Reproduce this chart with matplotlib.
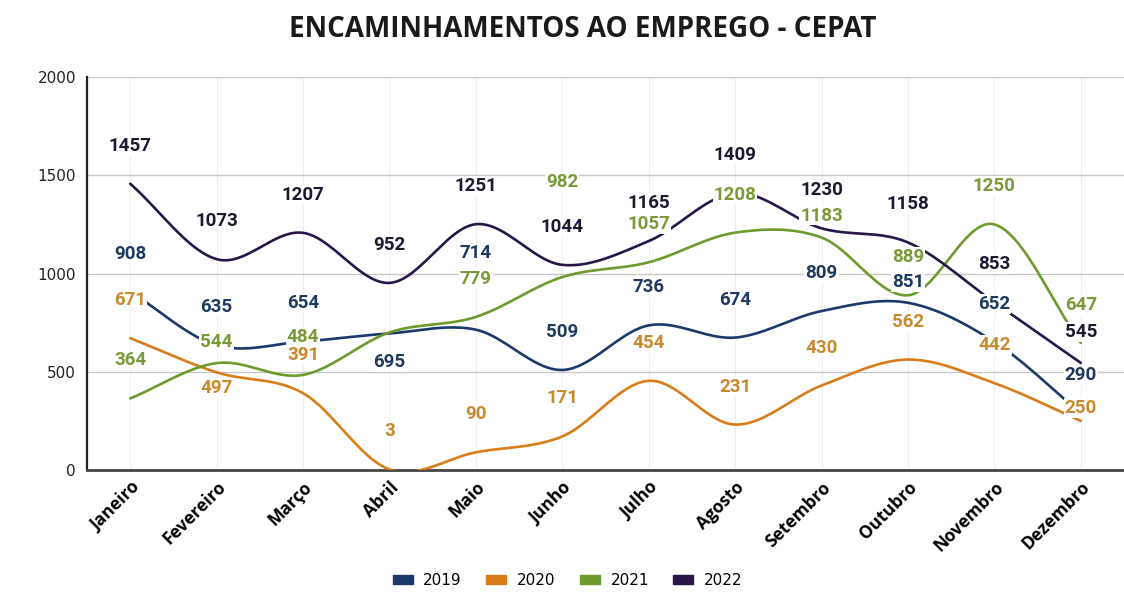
import numpy as np
import matplotlib
matplotlib.use('Agg')
import matplotlib.pyplot as plt
from matplotlib.patches import Patch


months = ['Janeiro', 'Fevereiro', 'Março', 'Abril', 'Maio', 'Junho',
          'Julho', 'Agosto', 'Setembro', 'Outubro', 'Novembro', 'Dezembro']
v2019 = [908, 635, 654, 695, 714, 509, 736, 674, 809, 851, 652, 290]
v2020 = [671, 497, 391, 3, 90, 171, 454, 231, 430, 562, 442, 250]
v2021 = [364, 544, 484, 700, 779, 982, 1057, 1208, 1183, 889, 1250, 647]
v2022 = [1457, 1073, 1207, 952, 1251, 1044, 1165, 1409, 1230, 1158, 853, 545]
years = ['2019', '2020', '2021', '2022']

line_colors = ['#1b3a6b', '#d97c1a', '#6e9a2e', '#26164a']
text_colors = ['#1f3a5f', '#c98a2e', '#7a9a3a', '#1c1a2e']

# label offsets in pixels (negative = above the point), None = hidden label
default_dy = -38
label_dy = {
    (0, 3): 29, (0, 4): -77, (0, 9): -21,
    (1, 1): 16, (1, 11): -13,
    (2, 1): -21, (2, 3): None, (2, 5): -95, (2, 8): -22,
    (3, 11): -31,
}


def smooth(y, n=25):
    # catmull-rom curve through the points, for drawing only
    y = np.asarray(y, dtype=float)
    p = np.concatenate([[2 * y[0] - y[1]], y, [2 * y[-1] - y[-2]]])
    xs, ys = [], []
    t = np.linspace(0, 1, n)
    for i in range(len(y) - 1):
        p0, p1, p2, p3 = p[i], p[i + 1], p[i + 2], p[i + 3]
        seg = 0.5 * ((2 * p1) + (-p0 + p2) * t + (2 * p0 - 5 * p1 + 4 * p2 - p3) * t ** 2
                     + (-p0 + 3 * p1 - 3 * p2 + p3) * t ** 3)
        xs.append(i + t)
        ys.append(seg)
    return np.concatenate(xs), np.concatenate(ys)


fig = plt.figure(figsize=(11.24, 5.92), dpi=100)
ax = fig.add_axes([0.0774, 0.2061, 0.9226, 0.6638])

x = np.arange(len(months))
series = [v2019, v2020, v2021, v2022]

for s, vals in enumerate(series):
    sx, sy = smooth(vals)
    ax.plot(sx, sy, color=line_colors[s], linewidth=1.9, zorder=3, solid_capstyle='round')
    for i, v in enumerate(vals):
        dy = label_dy.get((s, i), default_dy)
        if dy is None:
            continue
        ax.annotate(str(v), (x[i], v), xytext=(0, -dy * 0.72), textcoords='offset points',
                    ha='center', va='center', fontsize=13.5, fontweight='bold',
                    family='Roboto', color=text_colors[s], zorder=5,
                    bbox=dict(boxstyle='square,pad=0.05', fc='white', ec='none'))

ax.set_xlim(-0.5, 11.5)
ax.set_ylim(0, 2000)
ax.set_yticks([0, 500, 1000, 1500, 2000])
ax.set_xticks(x)
ax.set_xticklabels(months, rotation=45, ha='right', rotation_mode='anchor',
                   fontsize=12.5, fontweight='bold', family='Open Sans')
for lbl in ax.get_xticklabels():
    lbl.set_transform(lbl.get_transform() + matplotlib.transforms.ScaledTranslation(0.14, -0.03, fig.dpi_scale_trans))
ax.tick_params(axis='both', length=0)
ax.tick_params(axis='y', pad=8, labelsize=11, labelcolor='#222222')
ax.tick_params(axis='x', pad=6)

ax.grid(axis='y', color='#c8c8c8', linewidth=1)
ax.grid(axis='x', color='#eeeeee', linewidth=0.8)
ax.set_axisbelow(True)
for side in ['top', 'right']:
    ax.spines[side].set_visible(False)
ax.spines['left'].set_color('#222222')
ax.spines['left'].set_linewidth(1.6)
ax.spines['bottom'].set_color('#444444')
ax.spines['bottom'].set_linewidth(2)

fig.suptitle('ENCAMINHAMENTOS AO EMPREGO - CEPAT', x=0.518, y=0.975,
             fontsize=20, fontweight='bold', family='Open Sans', color='#1a1a1a')

handles = [Patch(color=c) for c in line_colors]
fig.legend(handles, years, loc='center', bbox_to_anchor=(0.505, 0.02), ncol=4,
           frameon=False, fontsize=11, handlelength=1.3, handleheight=0.55,
           columnspacing=1.6, handletextpad=0.7)

fig.savefig('out.png', dpi=100)
